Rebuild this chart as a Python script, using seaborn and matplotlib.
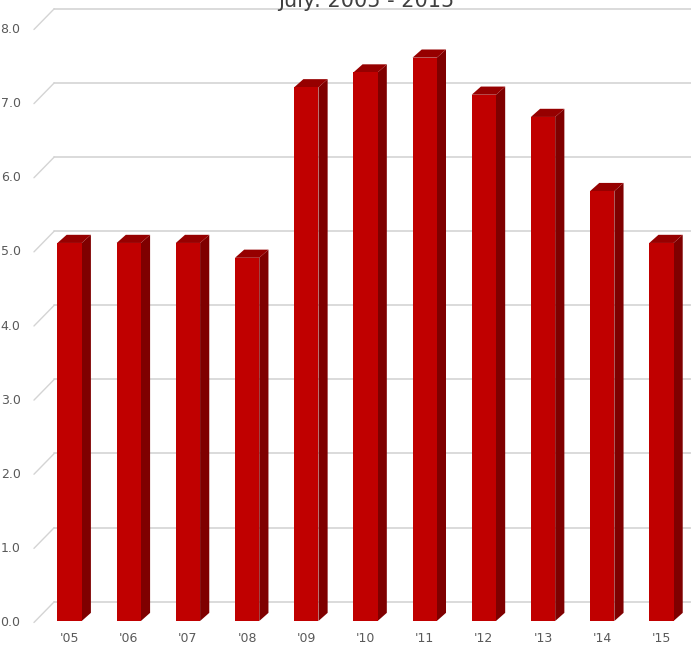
import matplotlib
matplotlib.use('AGG')
import matplotlib.pyplot as plt
import seaborn as sns
import pandas as pd
from matplotlib.patches import Polygon

years = ["'05", "'06", "'07", "'08", "'09", "'10", "'11", "'12", "'13", "'14", "'15"]
values = [5.1, 5.1, 5.1, 4.9, 7.2, 7.4, 7.6, 7.1, 6.8, 5.8, 5.1]
yticks = [0, 1, 2, 3, 4, 5, 6, 7, 8]

df = pd.DataFrame({"year": years, "value": values})

sns.set_style("white")
fig = plt.figure(figsize=(6.91, 6.54), dpi=100)
ax = fig.add_axes([40 / 691, 33 / 654, 651 / 691, 593 / 654])

dx, dy = 9 / 58, 0.11
x0 = -0.552
ax.set_xlim(x0, x0 + 651 / 58)
ax.set_ylim(0, 8)

# perspective gridlines (back wall)
gx = x0 + 17 / 58
for v in yticks:
    ax.plot([gx, ax.get_xlim()[1]], [v + 0.26, v + 0.26], color="#d4d4d4", lw=1.2, zorder=0, clip_on=False)
    ax.plot([x0 - 0.05, gx], [v - 0.02, v + 0.26], color="#d4d4d4", lw=1.0, zorder=0, clip_on=False)

sns.barplot(data=df, x="year", y="value", color="#c00000", width=0.41, saturation=1,
            linewidth=0, ax=ax, zorder=3)

for p in ax.patches:
    x, w, h = p.get_x(), p.get_width(), p.get_height()
    side = Polygon([(x + w, 0), (x + w + dx, dy), (x + w + dx, h + dy), (x + w, h)],
                   closed=True, color="#7f0000", lw=0, zorder=2, clip_on=False)
    top = Polygon([(x, h), (x + dx, h + dy), (x + w + dx, h + dy), (x + w, h)],
                  closed=True, color="#960000", lw=0, zorder=2, clip_on=False)
    ax.add_patch(side)
    ax.add_patch(top)

ax.set_yticks(yticks)
ax.set_yticklabels([f"{v:.1f}" for v in yticks])
ax.set_xlabel("")
ax.set_ylabel("")
ax.tick_params(axis="both", length=0, labelsize=9, labelcolor="#595959", pad=8)
ax.tick_params(axis="y", pad=14)
for s in ax.spines.values():
    s.set_visible(False)

fig.text(0.53, 0.999, "July: 2005 - 2015", ha="center", va="center", fontsize=15, color="#404040")

fig.savefig("out.png", dpi=100)
